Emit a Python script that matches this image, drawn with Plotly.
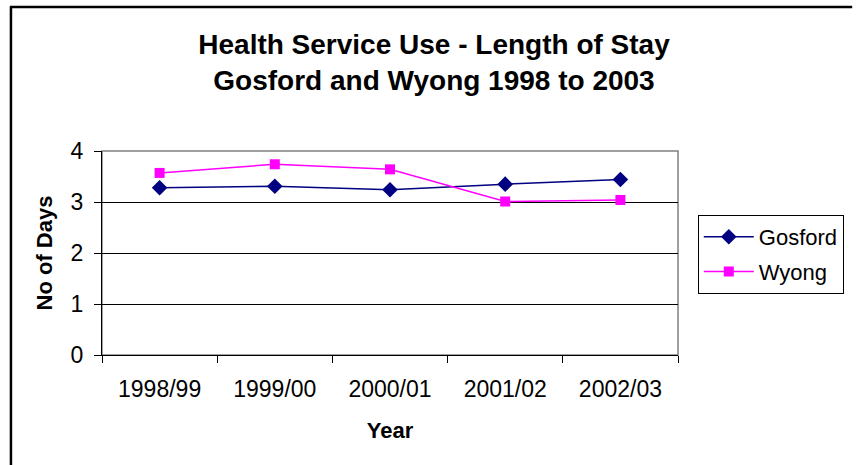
import plotly.graph_objects as go

years = ["1998/99", "1999/00", "2000/01", "2001/02", "2002/03"]
gosford = [3.28, 3.31, 3.24, 3.35, 3.44]
wyong = [3.57, 3.74, 3.64, 3.01, 3.04]

W, H = 856, 465
L, R, T, B = 102, 684, 151, 355
pw, ph = R - L, B - T

def px2x(px):
    return (px - L) / pw

def py2y(py):
    return (B - py) / ph

FONT = "Liberation Sans, Arial, sans-serif"

fig = go.Figure()
fig.add_trace(go.Scatter(
    x=years, y=gosford, name="Gosford", mode="lines+markers",
    line=dict(color="#000080", width=1.5),
    marker=dict(symbol="diamond", size=12, color="#000080"),
    legendgroup="g",
))
fig.add_trace(go.Scatter(
    x=years, y=wyong, name="Wyong", mode="lines+markers",
    line=dict(color="#FF00FF", width=1.5),
    marker=dict(symbol="square", size=10, color="#FF00FF"),
    legendgroup="w",
))

fig.update_layout(
    width=W, height=H,
    margin=dict(l=L, r=W - R, t=T, b=H - B, pad=0),
    paper_bgcolor="white", plot_bgcolor="white",
    font=dict(family=FONT, color="black", size=22),
    title=dict(
        text="<b>Health Service Use - Length of Stay<br>Gosford and Wyong 1998 to 2003</b>",
        x=434 / W, xanchor="center", y=1 - 53.5 / H, yanchor="middle",
        font=dict(size=28, family=FONT, color="black"),
    ),
    showlegend=True,
    legend=dict(
        x=px2x(704), y=py2y(215), xanchor="left", yanchor="top",
        bordercolor="black", borderwidth=1, bgcolor="white",
        font=dict(size=22, family=FONT), tracegroupgap=3,
        traceorder="grouped", itemwidth=50,
    ),
)

fig.update_xaxes(
    type="category", range=[-0.5, 4.5],
    showline=True, linecolor="black", linewidth=1,
    ticks="outside", tickson="boundaries", ticklen=7, tickcolor="black",
    showgrid=False, zeroline=False, ticklabelstandoff=13,
    tickfont=dict(size=23, family=FONT),
    title=dict(text="<b>Year</b>", font=dict(size=22, family=FONT), standoff=22),
)
fig.update_yaxes(
    range=[0, 4], dtick=1, tick0=0,
    showline=True, linecolor="black", linewidth=1,
    ticks="outside", ticklen=7, tickcolor="black",
    showgrid=True, gridcolor="black", gridwidth=1, zeroline=False,
    ticklabelstandoff=6,
    tickfont=dict(size=23, family=FONT),
    title=dict(text="<b>No of Days</b>", font=dict(size=22, family=FONT), standoff=11),
)

# plot area border (grey)
fig.add_shape(type="rect", xref="paper", yref="paper", x0=0, x1=1, y0=0, y1=1,
              line=dict(color="#808080", width=1.5), layer="below")
# outer chart border: left and top edges only
fig.add_shape(type="line", xref="paper", yref="paper",
              x0=px2x(10), x1=px2x(10), y0=py2y(470), y1=py2y(6.5),
              line=dict(color="black", width=2.5), layer="below")
fig.add_shape(type="line", xref="paper", yref="paper",
              x0=px2x(9), x1=px2x(860), y0=py2y(7), y1=py2y(7),
              line=dict(color="black", width=2.5), layer="below")

fig.write_html("out.html", config={"displayModeBar": False},
               post_script="document.body.style.margin='0px';")
